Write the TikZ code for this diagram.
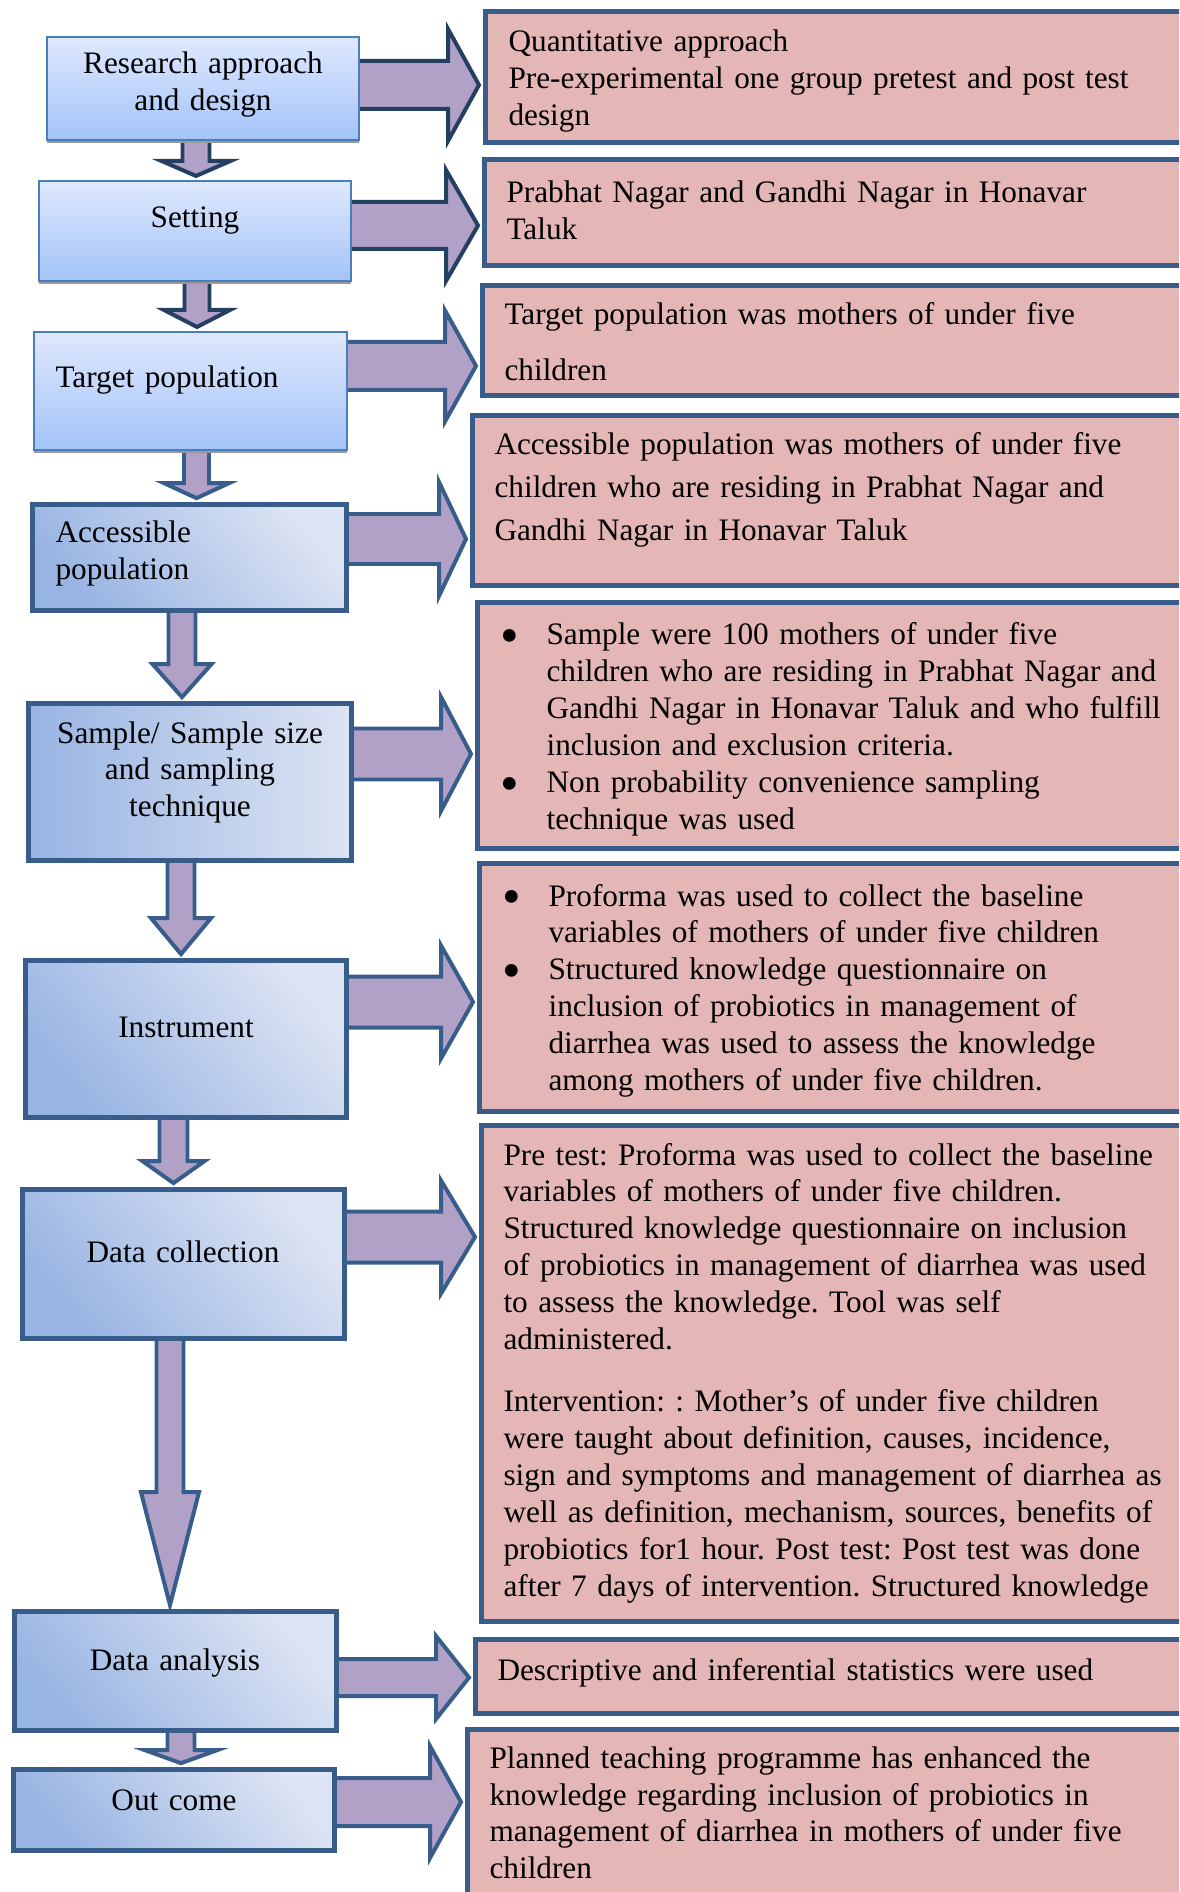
\documentclass[tikz,border=0pt]{standalone}
\usepackage{fontspec}
\setmainfont{Liberation Serif}
\usetikzlibrary{calc,shadows}
\frenchspacing

\definecolor{navy}{HTML}{243F60}
\definecolor{outline}{HTML}{385D8A}
\definecolor{boxline}{HTML}{4A7EBB}
\definecolor{arrowfill}{HTML}{B2A1C7}
\definecolor{pinkfill}{HTML}{E5B6B6}
\definecolor{btop}{HTML}{DFE8FD}
\definecolor{bbot}{HTML}{A3C3F8}
\definecolor{bdark}{HTML}{98B4E3}
\definecolor{blight}{HTML}{DDE4F3}

\pgfdeclarelayer{background}
\pgfsetlayers{background,main}

% block arrows: [style]{from}{to}{position}{half shaft}{half head}{head length}
\newcommand{\blockright}[7][]{%
  \draw[arrowbody,#1]
    ($(#2.east |- 0,0)+(-6,#4-#5)$)
 -- ($(#3.west |- 0,0)+(-4-#7,#4-#5)$)
 -- ($(#3.west |- 0,0)+(-4-#7,#4-#6)$)
 -- ($(#3.west |- 0,0)+(-4,#4)$)
 -- ($(#3.west |- 0,0)+(-4-#7,#4+#6)$)
 -- ($(#3.west |- 0,0)+(-4-#7,#4+#5)$)
 -- ($(#2.east |- 0,0)+(-6,#4+#5)$) -- cycle;}
\newcommand{\blockdown}[7][]{%
  \draw[arrowbody,#1]
    ($(#2.south -| 0,0)+(#4-#5,-6)$)
 -- ($(#3.north -| 0,0)+(#4-#5,-4-#7)$)
 -- ($(#3.north -| 0,0)+(#4-#6,-4-#7)$)
 -- ($(#3.north -| 0,0)+(#4,-4)$)
 -- ($(#3.north -| 0,0)+(#4+#6,-4-#7)$)
 -- ($(#3.north -| 0,0)+(#4+#5,-4-#7)$)
 -- ($(#2.south -| 0,0)+(#4+#5,-6)$) -- cycle;}

\newcommand{\itembul}{\makebox[17.3pt][l]{\fontsize{20}{14}\selectfont\raisebox{-3.2pt}{\textbullet}}}
\newcommand{\itemind}{\hspace*{17.3pt}}

\begin{document}
\begin{tikzpicture}[x=0.3758pt,y=-0.3758pt,
  bluebox/.style={draw=boxline,line width=0.75pt,top color=btop,bottom color=bbot,inner sep=0,
    drop shadow={shadow xshift=0pt,shadow yshift=-1.1pt,fill=black!40,opacity=1}},
  stepbox/.style={draw=outline,line width=1.8pt,bottom color=bdark,top color=blight,
    shading angle=-50,inner sep=0},
  rbox/.style={draw=outline,line width=1.9pt,fill=pinkfill,inner sep=0,
    anchor=north west,minimum width=280pt},
  arrowbody/.style={draw=outline,fill=arrowfill,line width=1.5pt},
  darkline/.style={draw=navy},
  ltext/.style={font=\fontsize{11.75}{13.9}\selectfont,inner sep=0,text width=125pt,
    align=center,anchor=base},
  rtext/.style={font=\fontsize{11.75}{13.9}\selectfont,inner sep=0,text width=280pt,
    align=left,anchor=base west}]
\useasboundingbox (0,0) rectangle (1179,1892);
\clip (0,0) rectangle (1179,1892);

% left column
\node[bluebox,minimum width=117.25pt,minimum height=38.7pt] (b1) at (203,88.5) {};
\node[bluebox,minimum width=117.25pt,minimum height=37.6pt] (b2) at (195,231) {};
\node[bluebox,minimum width=117.6pt,minimum height=44.35pt] (b3) at (190.5,391) {};
\node[stepbox,minimum width=118pt,minimum height=39.8pt] (b4) at (189.5,557.5) {};
\node[stepbox,left color=bdark,right color=blight,minimum width=121.4pt,
  minimum height=59pt] (b5) at (190,782) {};
\node[stepbox,minimum width=120.6pt,minimum height=59pt] (b6) at (186,1039) {};
\node[stepbox,minimum width=121pt,minimum height=56pt] (b7) at (183.5,1264) {};
\node[stepbox,minimum width=121pt,minimum height=44.7pt] (b8) at (175.5,1671) {};
\node[stepbox,minimum width=120.6pt,minimum height=30.4pt] (b9) at (174,1810) {};

\node[ltext] (t1) at (203,74) {Research approach\\and design};
\node[ltext] (t2) at (195,228) {Setting};
\node[ltext,align=left,anchor=base west] (t3) at (55,388) {Target population};
\node[ltext,align=left,anchor=base west] (t4) at (55,543) {Accessible\\population};
\node[ltext] (t5) at (190,743) {Sample/ Sample size\\and sampling\\technique};
\node[ltext] (t6) at (186,1037) {Instrument};
\node[ltext] (t7) at (183,1262) {Data collection};
\node[ltext] (t8) at (175,1670) {Data analysis};
\node[ltext] (t9) at (174,1810) {Out come};

% right column
\node[rbox,minimum height=49.2pt] (r1) at (483,9) {};
\node[rbox,minimum height=39.8pt] (r2) at (482,157) {};
\node[rbox,minimum height=41.3pt] (r3) at (480,283) {};
\node[rbox,minimum height=63.9pt] (r4) at (470,413) {};
\node[rbox,minimum height=92.4pt] (r5) at (475,600) {};
\node[rbox,minimum height=93.2pt] (r6) at (477,861) {};
\node[rbox,minimum height=186.4pt] (r7) at (479,1123) {};
\node[rbox,minimum height=27.8pt] (r8) at (473,1637) {};
\node[rbox,minimum height=80pt] (r9) at (465,1727) {};

\node[rtext] (q1) at (508,52) {Quantitative approach\\
Pre-experimental one group pretest and post test\\
design};
\node[rtext] (q2) at (506,203) {Prabhat Nagar and Gandhi Nagar in Honavar\\
Taluk};
\node[rtext] (q3) at (504,325) {Target population was mothers of under five\\[6.8pt]
children};
\node[rtext,font=\fontsize{11.75}{16}\selectfont] (q4) at (494,455)
{Accessible population was mothers of under five\\
children who are residing in Prabhat Nagar and\\
Gandhi Nagar in Honavar Taluk};
\node[rtext] (q5) at (500,645)
{\itembul Sample were 100 mothers of under five\\
\itemind children who are residing in Prabhat Nagar and\\
\itemind Gandhi Nagar in Honavar Taluk and who fulfill\\
\itemind inclusion and exclusion criteria.\\
\itembul Non probability convenience sampling\\
\itemind technique was used};
\node[rtext] (q6) at (502,906)
{\itembul Proforma was used to collect the baseline\\
\itemind variables of mothers of under five children\\
\itembul Structured knowledge questionnaire on\\
\itemind inclusion of probiotics in management of\\
\itemind diarrhea was used to assess the knowledge\\
\itemind among mothers of under five children.};
\node[rtext] (q7) at (503,1165)
{Pre test: Proforma was used to collect the baseline\\
variables of mothers of under five children.\\
Structured knowledge questionnaire on inclusion\\
of probiotics in management of diarrhea was used\\
to assess the knowledge. Tool was self\\
administered.\\[9.4pt]
Intervention: : Mother’s of under five children\\
were taught about definition, causes, incidence,\\
sign and symptoms and management of diarrhea as\\
well as definition, mechanism, sources, benefits of\\
probiotics for1 hour. Post test: Post test was done\\
after 7 days of intervention. Structured knowledge};
\node[rtext] (q8) at (497,1680) {Descriptive and inferential statistics were used};
\node[rtext] (q9) at (489,1768)
{Planned teaching programme has enhanced the\\
knowledge regarding inclusion of probiotics in\\
management of diarrhea in mothers of under five\\
children};

% arrows behind the boxes
\begin{pgfonlayer}{background}
\blockright[darkline]{b1}{r1}{85}{24}{56}{31}
\blockright[darkline]{b2}{r2}{225.5}{23.5}{55.5}{32}
\blockright{b3}{r3}{366}{24}{55.5}{31}
\blockright{b4}{r4}{539}{25}{57}{27}
\blockright{b5}{r5}{754}{25.5}{57}{30}
\blockright{b6}{r6}{1002}{25.5}{56.5}{32}
\blockright{b7}{r7}{1237}{25.5}{56.5}{34}
\blockright{b8}{r8}{1677.5}{18.5}{41.5}{33}
\blockright{b9}{r9}{1802}{24}{56}{31}
\blockdown[darkline]{b1}{b2}{196}{13.5}{34.5}{15}
\blockdown[darkline]{b2}{b3}{197}{12.5}{33}{17}
\blockdown{b3}{b4}{196.5}{12.5}{32.5}{15}
\blockdown{b4}{b5}{182}{13.5}{29.5}{33}
\blockdown{b5}{b6}{181}{13.5}{30}{36}
\blockdown{b6}{b7}{173.5}{14}{31}{22}
\blockdown{b7}{b8}{170}{13.5}{29}{113}
\blockdown{b8}{b9}{181}{13.5}{36}{13}
\end{pgfonlayer}
\end{tikzpicture}
\end{document}
